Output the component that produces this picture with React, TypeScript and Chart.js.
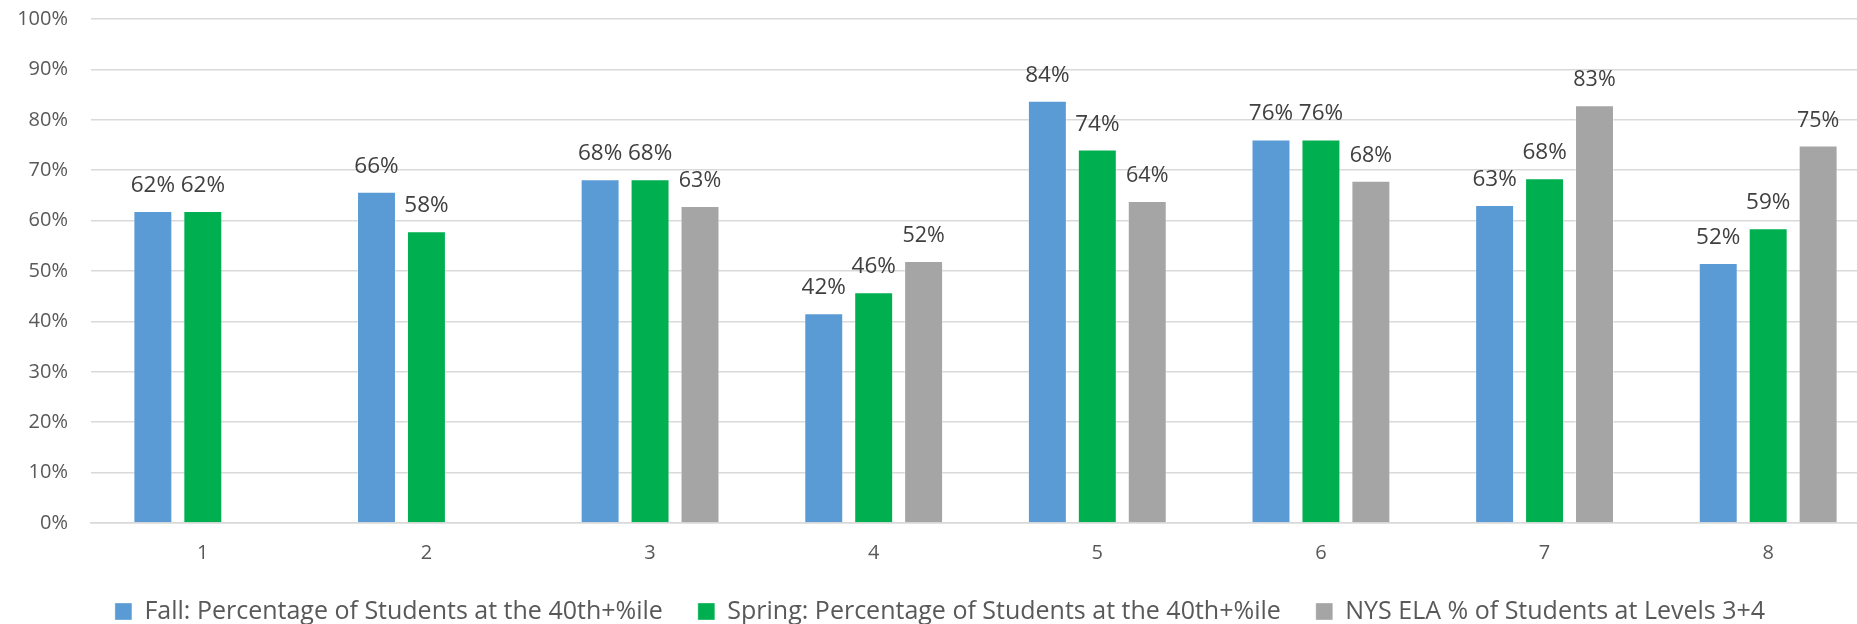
import React, { useEffect, useRef } from "react";
import { Chart, registerables } from "chart.js";

Chart.register(...registerables);

const categories = ["1", "2", "3", "4", "5", "6", "7", "8"];
const fallValues = [61.9, 65.7, 68.2, 41.6, 83.8, 76.1, 63.1, 51.6];
const springValues = [61.9, 57.9, 68.2, 45.8, 74.1, 76.1, 68.4, 58.5];
const nysValues = [null, null, 62.9, 52.0, 63.9, 67.9, 82.9, 74.9];
const seriesNames = [
  "Fall: Percentage of Students at the 40th+%ile",
  "Spring: Percentage of Students at the 40th+%ile",
  "NYS ELA % of Students at Levels 3+4",
];
const yTicks = [0, 10, 20, 30, 40, 50, 60, 70, 80, 90, 100];

const FONT = '"Open Sans", "Noto Sans", sans-serif';

const labelPlugin = {
  id: "barLabels",
  afterDatasetsDraw(chart: any) {
    const ctx = chart.ctx;
    chart.data.datasets.forEach((ds: any, di: number) => {
      const meta = chart.getDatasetMeta(di);
      meta.data.forEach((bar: any, i: number) => {
        const v = ds.data[i];
        if (v == null) return;
        ctx.save();
        ctx.font = `${di === 2 ? 21.5 : 22.5}px ${FONT}`;
        ctx.fillStyle = "#404040";
        ctx.textAlign = "center";
        ctx.textBaseline = "alphabetic";
        ctx.fillText(Math.round(v) + "%", bar.x, bar.y - 19);
        ctx.restore();
      });
    });
  },
};

export default function App() {
  const ref = useRef<HTMLCanvasElement>(null);
  useEffect(() => {
    if (!ref.current) return;
    const chart = new Chart(ref.current, {
      type: "bar",
      data: {
        labels: categories,
        datasets: [
          {
            label: seriesNames[0],
            data: fallValues,
            backgroundColor: "#5B9BD5",
            borderColor: "rgba(255,255,255,0.35)",
            borderWidth: 1,
          },
          {
            label: seriesNames[1],
            data: springValues,
            backgroundColor: "#00B050",
            borderColor: "rgba(255,255,255,0.35)",
            borderWidth: 1,
          },
          {
            label: seriesNames[2],
            data: nysValues as any,
            backgroundColor: "#A5A5A5",
            borderColor: "rgba(255,255,255,0.35)",
            borderWidth: 1,
          },
        ],
      },
      options: {
        responsive: false,
        animation: false,
        devicePixelRatio: 1,
        layout: { padding: { top: 19, left: 0, right: 0, bottom: 0 } },
        datasets: { bar: { categoryPercentage: 0.67, barPercentage: 0.78 } },
        plugins: {
          tooltip: { enabled: false },
          legend: {
            position: "bottom",
            labels: {
              boxWidth: 17,
              boxHeight: 17,
              padding: 35,
              color: "#595959",
              font: { family: FONT, size: 25 },
            },
          },
        },
        scales: {
          x: {
            grid: { display: false, drawTicks: false },
            border: { display: true, color: "#D9D9D9", width: 1.5 },
            ticks: {
              color: "#595959",
              font: { family: FONT, size: 20 },
              padding: 18,
            },
            afterFit: (s: any) => {
              s.height = 41;
            },
          },
          y: {
            min: 0,
            max: 100,
            afterBuildTicks: (s: any) => {
              s.ticks = yTicks.map((v) => ({ value: v }));
            },
            grid: {
              color: "#D9D9D9",
              lineWidth: 1.5,
              drawTicks: true,
              tickLength: 23,
              tickColor: "rgba(0,0,0,0)",
            },
            border: { display: false },
            ticks: {
              color: "#595959",
              font: { family: FONT, size: 20 },
              padding: 0,
              callback: (v: any) => v + "%",
            },
            afterFit: (s: any) => {
              s.width = 91;
            },
          },
        },
      },
      plugins: [labelPlugin],
    });
    return () => chart.destroy();
  }, []);
  return (
    <div
      style={{
        position: "fixed",
        left: 0,
        top: 0,
        width: 1857,
        height: 624,
        overflow: "hidden",
        background: "#fff",
      }}
    >
      <canvas ref={ref} width={1880} height={634} style={{ display: "block" }} />
    </div>
  );
}
